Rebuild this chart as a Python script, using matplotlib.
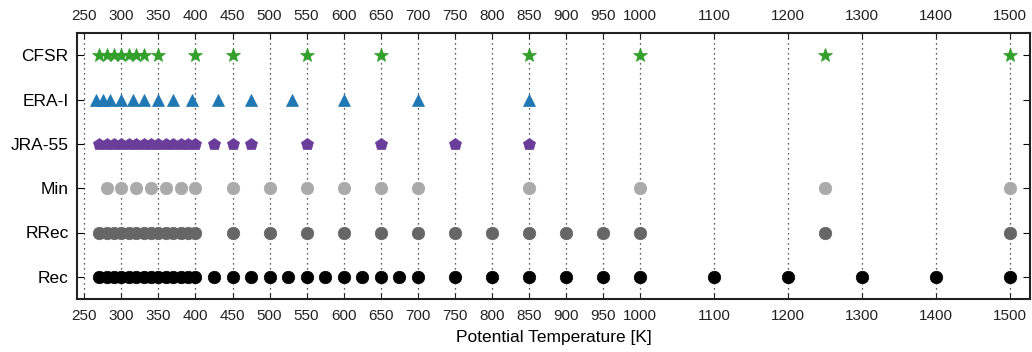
import matplotlib
matplotlib.use("Agg")
import matplotlib.pyplot as plt

plt.rcParams['font.family'] = ['Liberation Sans', 'DejaVu Sans']

# ---- data: isentropic levels per dataset (K) ----
datasets = ['Rec', 'RRec', 'Min', 'JRA-55', 'ERA-I', 'CFSR']

rec_levels = [270, 280, 290, 300, 310, 320, 330, 340, 350, 360, 370, 380, 390, 400,
              425, 450, 475, 500, 525, 550, 575, 600, 625, 650, 675, 700,
              750, 800, 850, 900, 950, 1000, 1100, 1200, 1300, 1400, 1500]
rrec_levels = [270, 280, 290, 300, 310, 320, 330, 340, 350, 360, 370, 380, 390, 400,
               450, 500, 550, 600, 650, 700, 750, 800, 850, 900, 950, 1000, 1250, 1500]
min_levels = [280, 300, 320, 340, 360, 380, 400, 450, 500, 550, 600, 650, 700,
              850, 1000, 1250, 1500]
jra_levels = [270, 280, 290, 300, 310, 320, 330, 340, 350, 360, 370, 380, 390, 400,
              425, 450, 475, 550, 650, 750, 850]
erai_levels = [265, 275, 285, 300, 315, 330, 350, 370, 395, 430, 475, 530, 600, 700, 850]
cfsr_levels = [270, 280, 290, 300, 310, 320, 330, 350, 400, 450, 550, 650, 850,
               1000, 1250, 1500]

xtick_vals = list(range(250, 1001, 50)) + [1100, 1200, 1300, 1400, 1500]

# marker style per row
styles = [
    (rec_levels, 'o', '#000000', 9),
    (rrec_levels, 'o', '#666666', 9),
    (min_levels, 'o', '#aaaaaa', 9),
    (jra_levels, 'p', '#6a3d9a', 9),
    (erai_levels, '^', '#1f78b4', 8.5),
    (cfsr_levels, '*', '#33a02c', 10),
]

fig = plt.figure(figsize=(10.32, 3.52), dpi=100)
ax = fig.add_axes([77 / 1032, 1 - 299 / 352, (1030 - 77) / 1032, (299 - 33) / 352])

for i, (levels, mk, col, ms) in enumerate(styles):
    ax.plot(levels, [i] * len(levels), linestyle='none', marker=mk, color=col,
            markersize=ms, markeredgecolor=col, markeredgewidth=0.5, zorder=3)

ax.set_xlim(240, 1527)
ax.set_ylim(-0.5, 5.5)

ax.set_yticks(range(len(datasets)))
ax.set_yticklabels(datasets, fontsize=12.5)

ax.set_xticks(xtick_vals)
ax.set_xticklabels([str(v) for v in xtick_vals], fontsize=11)
ax.tick_params(axis='x', top=True, labeltop=True, bottom=True, labelbottom=True,
               direction='in', length=4, pad=7, colors='#222222')
ax.tick_params(axis='y', left=True, right=True, direction='in', length=5, pad=6)

ax.xaxis.grid(True, linestyle=(0, (1, 3)), color='#222222', linewidth=0.9)
ax.set_axisbelow(True)

for sp in ax.spines.values():
    sp.set_linewidth(1.5)
    sp.set_color('#222222')

ax.set_xlabel('Potential Temperature [K]', fontsize=12.5, labelpad=5)

fig.savefig('out.png', dpi=100)
